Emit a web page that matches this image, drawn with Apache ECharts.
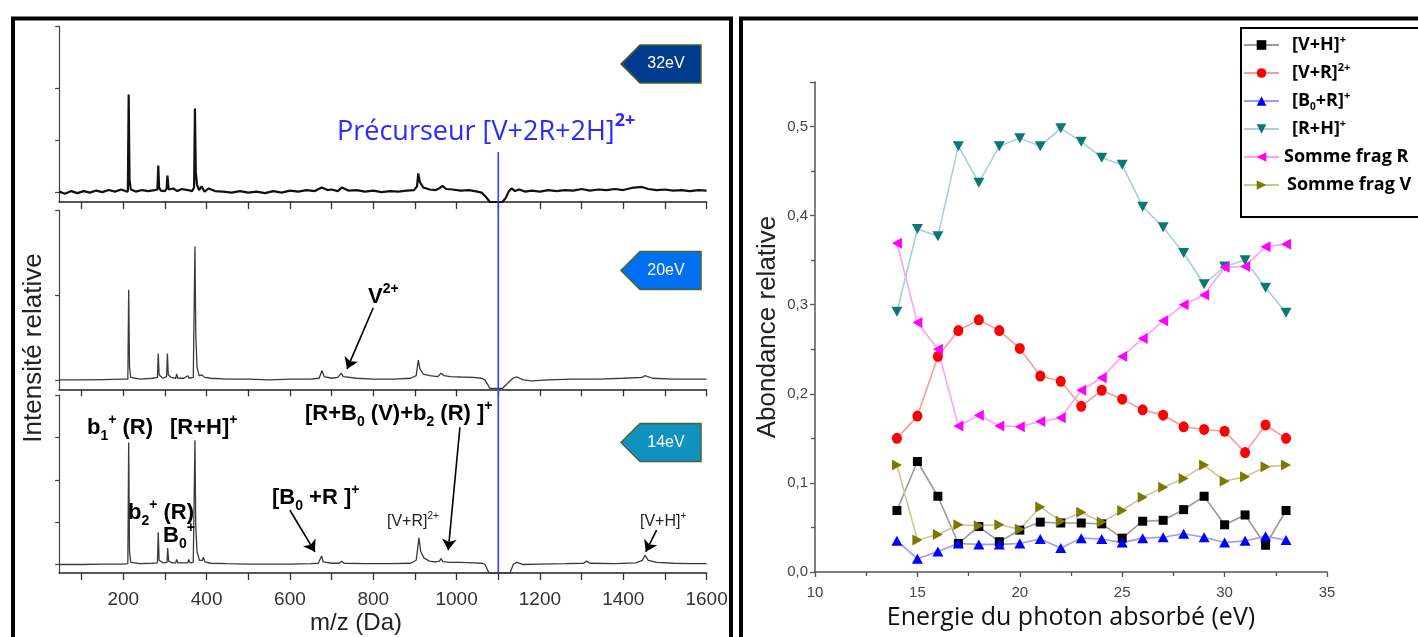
<!DOCTYPE html>
<html><head><meta charset="utf-8">
<script src="https://cdn.jsdelivr.net/npm/echarts@6.0.0/dist/echarts.min.js"></script>
<style>html,body{margin:0;padding:0;background:#fff}#c{width:1418px;height:637px}</style>
</head><body><div id="c"></div>
<script>
// ---------------- DATA ----------------
// Mass spectra (m/z in Da, relative intensity; each panel in its own tick units, baseline = 0)
const MZ_TICKS = [100,200,300,400,500,600,700,800,900,1000,1100,1200,1300,1400,1500,1600];
const MZ_LABELS = [200,400,600,800,1000,1200,1400,1600];
const PRECURSOR_MZ = 1100;

const SPEC_32 = [[46,0.02],[60,-0.02],[75,0.03],[90,-0.01],[105,0.03],[120,0.0],[135,0.04],[150,0.01],[165,0.05],[180,0.02],[195,0.06],[205,0.03],[211,0.02],[213,1.89],[215,0.25],[218,0.06],[230,0.02],[245,0.05],[260,0.03],[275,0.05],[282,0.06],[284,0.52],[286,0.1],[290,0.04],[300,0.03],[304,0.08],[306,0.33],[309,0.06],[320,0.08],[330,0.03],[340,0.07],[355,0.05],[365,0.03],[370,0.1],[372,1.62],[374,0.4],[377,0.15],[382,0.05],[388,0.12],[395,0.02],[405,0.08],[420,0.03],[440,0.02],[460,0.0],[480,0.03],[500,0.0],[520,0.02],[540,-0.01],[560,0.03],[580,0.0],[600,0.04],[620,0.02],[640,0.05],[660,0.03],[676,0.1],[690,0.05],[700,0.06],[715,0.03],[725,0.1],[740,0.04],[760,0.05],[780,0.02],[800,0.04],[820,0.01],[840,0.03],[860,0.02],[880,0.04],[898,0.05],[905,0.12],[908,0.37],[912,0.2],[920,0.1],[935,0.06],[950,0.05],[960,0.09],[966,0.13],[975,0.07],[990,0.06],[1010,0.04],[1030,0.05],[1050,0.02],[1060,0.0],[1070,-0.08],[1080,-0.18],[1110,-0.18],[1118,-0.1],[1125,0.02],[1132,0.08],[1140,0.03],[1150,0.06],[1165,0.02],[1180,0.04],[1200,0.02],[1220,0.05],[1240,0.03],[1260,0.05],[1280,0.04],[1300,0.07],[1320,0.04],[1340,0.06],[1360,0.05],[1380,0.07],[1400,0.05],[1420,0.09],[1445,0.11],[1460,0.07],[1480,0.05],[1500,0.06],[1520,0.04],[1540,0.05],[1560,0.03],[1580,0.05],[1600,0.04]];

const SPEC_20 = [[46,0.0],[100,0.0],[150,0.005],[200,0.01],[211,0.01],[213,1.06],[215,0.15],[218,0.03],[240,0.01],[270,0.02],[282,0.03],[284,0.31],[286,0.06],[295,0.02],[304,0.04],[306,0.31],[308,0.06],[315,0.03],[326,0.02],[328,0.07],[331,0.02],[345,0.02],[355,0.05],[358,0.02],[368,0.03],[372,1.57],[374,0.55],[377,0.15],[382,0.05],[389,0.06],[395,0.03],[410,0.02],[450,0.01],[500,0.01],[550,0.0],[600,0.01],[650,0.01],[670,0.02],[677,0.11],[682,0.04],[700,0.02],[715,0.03],[723,0.08],[728,0.04],[760,0.02],[800,0.01],[850,0.01],[890,0.02],[903,0.05],[908,0.235],[912,0.13],[920,0.07],[935,0.05],[955,0.04],[963,0.08],[970,0.05],[985,0.04],[1010,0.035],[1040,0.03],[1060,0.02],[1068,0.0],[1080,-0.1],[1110,-0.1],[1120,-0.05],[1135,0.02],[1145,0.035],[1160,0.0],[1180,-0.01],[1220,0.0],[1280,0.01],[1340,0.01],[1400,0.02],[1445,0.03],[1452,0.05],[1470,0.02],[1520,0.01],[1600,0.01]];

const SPEC_14 = [[46,0.0],[100,0.0],[150,0.01],[200,0.01],[211,0.02],[213,2.88],[215,0.3],[218,0.05],[240,0.02],[270,0.03],[282,0.04],[284,0.76],[286,0.1],[296,0.04],[305,0.05],[306.5,0.39],[309,0.08],[318,0.04],[326,0.04],[328,0.12],[331,0.04],[345,0.04],[355,0.04],[357,0.12],[360,0.04],[368,0.05],[372,2.93],[374,0.9],[377,0.3],[383,0.1],[390,0.1],[392,0.17],[396,0.06],[410,0.03],[450,0.02],[500,0.01],[550,0.01],[600,0.01],[650,0.02],[668,0.03],[676,0.2],[680,0.06],[700,0.03],[718,0.03],[724,0.08],[730,0.03],[780,0.02],[840,0.02],[890,0.03],[903,0.1],[909.6,0.63],[914,0.3],[922,0.15],[935,0.08],[950,0.06],[959,0.08],[962.5,0.14],[967,0.07],[985,0.05],[1010,0.05],[1040,0.04],[1062,0.03],[1068,0.0],[1078,-0.2],[1128,-0.2],[1136,0.0],[1144,0.05],[1160,0.0],[1200,0.01],[1260,0.02],[1305,0.03],[1312,0.08],[1320,0.03],[1380,0.02],[1430,0.04],[1446,0.1],[1452,0.22],[1460,0.1],[1480,0.05],[1520,0.03],[1560,0.02],[1600,0.02]];

// Relative abundances vs absorbed photon energy
const ENERGY = [14,15,16,17,18,19,20,21,22,23,24,25,26,27,28,29,30,31,32,33];
const VH      = [0.069,0.124,0.085,0.032,0.051,0.034,0.047,0.056,0.055,0.055,0.054,0.038,0.057,0.058,0.070,0.085,0.053,0.064,0.030,0.069];
const VR      = [0.150,0.175,0.242,0.271,0.283,0.271,0.251,0.220,0.214,0.186,0.204,0.194,0.182,0.176,0.163,0.160,0.158,0.134,0.165,0.150];
const B0R     = [0.035,0.015,0.023,0.032,0.031,0.031,0.032,0.037,0.027,0.038,0.037,0.033,0.038,0.039,0.043,0.039,0.033,0.035,0.040,0.036];
const RH      = [0.292,0.385,0.377,0.478,0.437,0.478,0.487,0.478,0.498,0.483,0.465,0.457,0.410,0.387,0.358,0.323,0.343,0.350,0.319,0.291];
const SOMME_R = [0.369,0.280,0.250,0.164,0.176,0.164,0.163,0.169,0.173,0.204,0.218,0.242,0.262,0.282,0.300,0.311,0.342,0.343,0.365,0.368];
const SOMME_V = [0.120,0.036,0.042,0.053,0.052,0.053,0.048,0.073,0.057,0.067,0.056,0.069,0.084,0.095,0.105,0.120,0.102,0.107,0.118,0.120];
const SERIES_NAMES = ['[V+H]+','[V+R]2+','[B0+R]+','[R+H]+','Somme frag R','Somme frag V'];
const LEGEND_LABELS = {
  '[V+H]+': '{p|}{b|[V+H]}{sup|+}',
  '[V+R]2+': '{p|}{b|[V+R]}{sup|2+}',
  '[B0+R]+': '{p|}{b|[B}{sub|0}{b|+R]}{sup|+}',
  '[R+H]+': '{p|}{b|[R+H]}{sup|+}',
  'Somme frag R': '{b|Somme frag R}',
  'Somme frag V': '{p2|}{b|Somme frag V}'
};

// ---------------- CHART ----------------
const chart = echarts.init(document.getElementById('c'), null, {renderer:'canvas'});
const X0 = 59.1, XW = 647.5;
const FONT = 'Liberation Sans, Arial, sans-serif';
const OSANS = 'Open Sans, Noto Sans, sans-serif';

function specX(i, showLabel) {
  return {gridIndex:i, type:'value', min:46, max:1600,
    axisLine:{show:true, onZero:false, lineStyle:{color:'#222', width:1.6}},
    axisTick:{show:true, inside:false, customValues:MZ_TICKS, length:7, lineStyle:{color:'#333', width:1.3}},
    axisLabel:{show:showLabel, customValues:MZ_LABELS, margin:17, fontSize:19, color:'#333', fontFamily:FONT,
      formatter:v=>String(v)},
    splitLine:{show:false}, minorTick:{show:false}};
}
function specY(i, min, max, ticks) {
  return {gridIndex:i, type:'value', min, max,
    axisLine:{show:true, onZero:false, lineStyle:{color:'#444', width:1.2}},
    axisTick:{show:true, inside:false, customValues:ticks, length:4, lineStyle:{color:'#444', width:1.2}},
    axisLabel:{show:false}, splitLine:{show:false}};
}
const ARROW_STYLE = {silent:true, symbol:['none','arrow'], symbolSize:11, animation:false,
  lineStyle:{color:'#000', width:1.6, type:'solid'}, label:{show:false}, emphasis:{disabled:true}};
function spec(idx, data, color, width, arrows) {
  const s = {type:'line', xAxisIndex:idx, yAxisIndex:idx, data, showSymbol:false, symbol:'none',
    lineStyle:{color, width}, silent:true, animation:false, z:3};
  if (arrows) s.markLine = Object.assign({}, ARROW_STYLE, {data: arrows.map(a=>[{coord:a[0]},{coord:a[1]}])});
  return s;
}
function pt(vals){ return ENERGY.map((e,i)=>[e, vals[i]]); }
function dataSeries(name, vals, symbol, size, mColor, lColor) {
  return {name, type:'line', xAxisIndex:4, yAxisIndex:4, data:pt(vals), symbol, symbolSize:size,
    showSymbol:true, itemStyle:{color:mColor, borderWidth:0}, lineStyle:{color:lColor, width:1.6},
    animation:false, emphasis:{disabled:true}};
}

const RICH_LBL = {
  b:{fontSize:22, fontWeight:'bold', fontFamily:FONT, fill:'#000', lineHeight:30},
  sub:{fontSize:14, fontWeight:'bold', fontFamily:FONT, fill:'#000', verticalAlign:'bottom', lineHeight:15},
  sup:{fontSize:14, fontWeight:'bold', fontFamily:FONT, fill:'#000', verticalAlign:'top', lineHeight:15},
  n:{fontSize:16, fontFamily:FONT, fill:'#222', lineHeight:22},
  supn:{fontSize:10, fontFamily:FONT, fill:'#222', verticalAlign:'top', lineHeight:10}
};
function txt(x, y, text) {
  return {type:'text', x, y, z:50, style:{text, rich:RICH_LBL, align:'left', verticalAlign:'middle', fill:'#000'}};
}
function badge(yc, color, label) {
  return [{type:'polygon', z:40, shape:{points:[[621,yc],[640,yc-19],[701,yc-19],[701,yc+19],[640,yc+19]]},
      style:{fill:color, stroke:'#4a6330', lineWidth:1.5}},
    {type:'text', z:41, x:666, y:yc, style:{text:label, fill:'#fff', font:'16px ' + FONT, align:'center', verticalAlign:'middle'}}];
}

const option = {
  backgroundColor:'#fff',
  animation:false,
  grid:[
    {left:X0, width:XW, top:26, height:176, containLabel:false, outerBoundsMode:'none'},
    {left:X0, width:XW, top:210, height:179.3, containLabel:false, outerBoundsMode:'none'},
    {left:X0, width:XW, top:395, height:178, containLabel:false, outerBoundsMode:'none'},
    {left:X0, width:XW, top:152, height:421, containLabel:false, outerBoundsMode:'none'},
    {left:815, width:512, top:82, height:490, containLabel:false, outerBoundsMode:'none'}
  ],
  xAxis:[
    specX(0,false), specX(1,false), specX(2,true),
    {gridIndex:3, type:'value', min:46, max:1600, show:false},
    {gridIndex:4, type:'value', min:10, max:35, interval:5,
     axisLine:{show:true, onZero:false, lineStyle:{color:'#555', width:1.5}},
     axisTick:{show:true, inside:false, length:5, lineStyle:{color:'#555', width:1.3}},
     minorTick:{show:true, splitNumber:2, length:4, lineStyle:{color:'#555', width:1.3}},
     axisLabel:{show:true, margin:13, fontSize:15, color:'#444', fontFamily:FONT},
     splitLine:{show:false}, minorSplitLine:{show:false},
     name:'Energie du photon absorbé (eV)', nameLocation:'middle', nameGap:32,
     nameTextStyle:{fontSize:25, color:'#111', fontFamily:OSANS}}
  ],
  yAxis:[
    specY(0,-0.18,3.206,[0,1,2,3.206]),
    specY(1,-0.11,2.0,[0,1,2]),
    specY(2,-0.2,4.0,[0,1,2,3,4]),
    {gridIndex:3, type:'value', min:0, max:1, show:false},
    {gridIndex:4, type:'value', min:0, max:0.55, interval:0.1,
     axisLine:{show:true, onZero:false, lineStyle:{color:'#555', width:1.5}},
     axisTick:{show:true, inside:false, length:5, lineStyle:{color:'#555', width:1.3}},
     minorTick:{show:true, splitNumber:2, length:4, lineStyle:{color:'#555', width:1.3}},
     axisLabel:{show:true, margin:7, fontSize:15, color:'#444', fontFamily:FONT, showMaxLabel:false,
       formatter:v=>v.toFixed(1).replace('.', ',')},
     splitLine:{show:false}, minorSplitLine:{show:false},
     name:'Abondance relative', nameLocation:'middle', nameGap:34, nameRotate:90,
     nameTextStyle:{fontSize:26, color:'#222', fontFamily:FONT}}
  ],
  legend:{show:true, data:SERIES_NAMES, orient:'vertical', left:1241, top:28, z:10,
    padding:[6,10,22,2], itemGap:6, itemWidth:35, itemHeight:12,
    borderWidth:0, backgroundColor:'transparent',
    selectedMode:false,
    formatter:n=>LEGEND_LABELS[n],
    textStyle:{color:'#000', lineHeight:22,
      rich:{
        b:{fontSize:18, fontWeight:'bold', fontFamily:OSANS, color:'#000', lineHeight:22},
        sub:{fontSize:10, fontWeight:'bold', fontFamily:OSANS, color:'#000', verticalAlign:'bottom', lineHeight:10},
        sup:{fontSize:11, fontWeight:'bold', fontFamily:OSANS, color:'#000', verticalAlign:'top', lineHeight:11},
        p:{width:8}, p2:{width:3}
      }}},
  series:[
    spec(0, SPEC_32, '#111', 2.2),
    spec(1, SPEC_20, '#3a3a3a', 1.3, [[[800,0.85],[737,0.13]]]),
    spec(2, SPEC_14, '#3a3a3a', 1.3, [[[600,1.28],[660,0.3]], [[1008,3.24],[980,0.34]], [[1480,0.81],[1454,0.3]]]),
    {type:'line', xAxisIndex:3, yAxisIndex:3, data:[[PRECURSOR_MZ,0],[PRECURSOR_MZ,1]], showSymbol:false, symbol:'none',
     lineStyle:{color:'#3340ff', width:1.6}, silent:true, animation:false, z:5},
    dataSeries(SERIES_NAMES[0], VH, 'rect', 9, '#000000', '#9a9a9a'),
    dataSeries(SERIES_NAMES[1], VR, 'circle', [10,11], '#ff0000', '#ff9a9a'),
    dataSeries(SERIES_NAMES[2], B0R, 'triangle', [11,10], '#0000ff', '#9a9aff'),
    dataSeries(SERIES_NAMES[3], RH, 'path://M0,0L10,0L5,9Z', [11,10], '#0b7676', '#a6d2d2'),
    dataSeries(SERIES_NAMES[4], SOMME_R, 'path://M10,0L10,10L1,5Z', [10,11], '#ff00ff', '#ffa0ff'),
    dataSeries(SERIES_NAMES[5], SOMME_V, 'path://M0,0L0,10L9,5Z', [10,11], '#7a7a00', '#c9c994')
  ],
  graphic:[
    {type:'rect', z:200, shape:{x:13, y:18.5, width:718, height:640}, style:{fill:'none', stroke:'#000', lineWidth:4}},
    {type:'rect', z:200, shape:{x:741, y:18.5, width:700, height:640}, style:{fill:'none', stroke:'#000', lineWidth:4}},
    {type:'rect', z:5, shape:{x:1241, y:28, width:260, height:189}, style:{fill:'#fff', stroke:'#000', lineWidth:2}},
    ...badge(64, '#003b8e', '32eV'),
    ...badge(270.5, '#0070f0', '20eV'),
    ...badge(442.5, '#0f92c0', '14eV'),
    {type:'text', z:50, x:337, y:132, style:{text:'{t|Précurseur [V+2R+2H]}{s|2+}', align:'left', verticalAlign:'middle',
      rich:{t:{fontSize:27, fontFamily:OSANS, fill:'#2a2aff', lineHeight:40},
            s:{fontSize:18, fontWeight:'bold', fontFamily:OSANS, fill:'#2a2aff', verticalAlign:'top', lineHeight:20}}}},
    {type:'text', z:50, x:34, y:348, rotation:Math.PI/2, style:{text:'Intensité relative', font:'26px ' + FONT, fill:'#222', align:'center', verticalAlign:'middle'}},
    {type:'text', z:50, x:356, y:623, style:{text:'m/z (Da)', font:'24px ' + FONT, fill:'#222', align:'center', verticalAlign:'middle'}},
    txt(368, 297, '{b|V}{sup|2+}'),
    txt(87, 428, '{b|b}{sub|1}{sup|+}{b| (R)}'),
    txt(170, 428, '{b|[R+H]}{sup|+}'),
    txt(128, 513, '{b|b}{sub|2}{sup|+}{b| (R)}'),
    txt(163, 536, '{b|B}{sub|0}{sup|+}'),
    txt(272, 498, '{b|[B}{sub|0}{b| +R ]}{sup|+}'),
    txt(305, 414, '{b|[R+B}{sub|0}{b| (V)+b}{sub|2}{b| (R) ]}{sup|+}'),
    txt(387, 522, '{n|[V+R]}{supn|2+}'),
    txt(640, 522, '{n|[V+H]}{supn|+}')
  ]
};
chart.setOption(option);
</script>
</body></html>
